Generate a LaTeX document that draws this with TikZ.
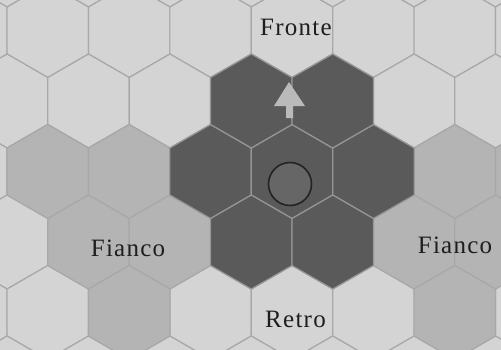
\documentclass[tikz,border=0pt]{standalone}
\usepackage{fontspec}
\setmainfont{Liberation Serif}[LetterSpace=5]
\definecolor{hexlight}{RGB}{212,212,212}
\definecolor{hexlightline}{RGB}{168,168,168}
\definecolor{hexmid}{RGB}{180,180,180}
\definecolor{hexdark}{RGB}{90,90,90}
\definecolor{hexdarkline}{RGB}{150,150,150}
\definecolor{unitfill}{RGB}{102,102,102}
\definecolor{unitline}{RGB}{35,35,35}
\definecolor{arrowgray}{RGB}{186,186,186}
\definecolor{labeltext}{RGB}{30,30,30}
\tikzset{
  hexagon/.pic={\path[pic actions] (30:47) -- (90:47) -- (150:47) -- (210:47) -- (270:47) -- (330:47) -- cycle;},
  lighthex/.style={fill=hexlight, draw=hexlightline, line width=1.2pt},
  midhex/.style={fill=hexmid, draw=hexlightline, line width=1.2pt},
  darkhex/.style={fill=hexdark, draw=hexdarkline, line width=1.2pt},
  zonelabel/.style={text=labeltext, font=\fontsize{25}{30}\selectfont, anchor=base, inner sep=0pt},
}
\newcommand{\hexX}[2]{292+81.4*(#2+0.5*mod(abs(#1),2))}
\newcommand{\hexY}[1]{171.5+70.5*(#1)}
\begin{document}
\begin{tikzpicture}[x=1pt,y=-1pt]
\useasboundingbox (0,0) rectangle (501,349);
\clip (0,0) rectangle (501,349);
\fill[hexlight] (0,0) rectangle (501,349);
% base grid
\foreach \r in {-3,...,3}{
  \foreach \c in {-4,...,3}{
    \pic[lighthex] at ({\hexX{\r}{\c}},{\hexY{\r}}) {hexagon};
  }
}
% flank zones
\foreach \r/\c in {0/-3,0/-2,0/2,0/3,1/-3,1/-2,1/1,1/2,2/-2,2/2}{
  \pic[midhex] at ({\hexX{\r}{\c}},{\hexY{\r}}) {hexagon};
}
% zone of control
\foreach \r/\c in {0/-1,0/0,0/1,-1/-1,-1/0,1/-1,1/0}{
  \pic[darkhex] at ({\hexX{\r}{\c}},{\hexY{\r}}) {hexagon};
}
% facing arrow
\fill[arrowgray] (289,82) -- (305,106) -- (293,106) -- (293,118) -- (286,118) -- (286,106) -- (274,106) -- cycle;
% unit
\node[circle, minimum size=43pt, inner sep=0pt, fill=unitfill, draw=unitline, line width=1.6pt] (unit) at (290,184) {};
% labels
\node[zonelabel] (fronte) at (296,35) {Fronte};
\node[zonelabel] (fiancoL) at (128,256.5) {Fianco};
\node[zonelabel] (fiancoR) at (455,253) {Fianco};
\node[zonelabel] (retro) at (295.5,327.5) {Retro};
\end{tikzpicture}
\end{document}
